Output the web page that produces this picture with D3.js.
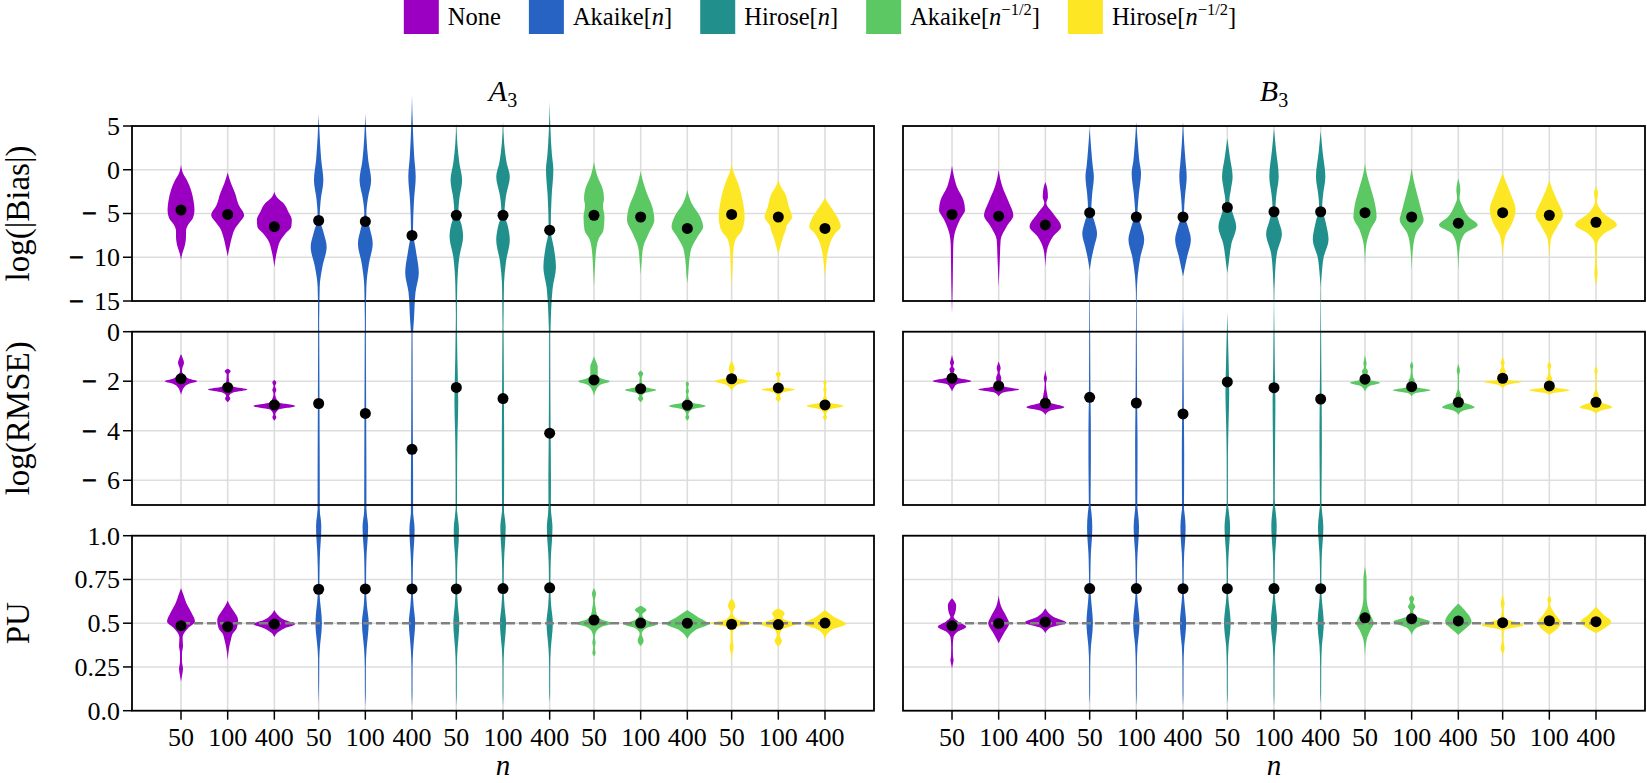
<!DOCTYPE html>
<html>
<head>
<meta charset="utf-8">
<script src="https://cdn.jsdelivr.net/npm/d3@7"></script>
<style>
    body { margin: 0; background: #fff; }
    svg { display: block; }
    svg text { font-family: 'Liberation Serif', 'Times New Roman', Tinos, 'DejaVu Serif', 'Noto Serif', serif; }
</style>
</head>
<body>
<svg id="chart"></svg>
<script>
'use strict';

const methodNames = ['None', 'Akaike', 'Hirose', 'Akaike', 'Hirose'];
const methodArgs = ['', 'n', 'n', 'n', 'n'];
const methodPowers = ['', '', '', '\u22121/2', '\u22121/2'];
const methodColors = ['#9b00c2', '#2663c2', '#21908c', '#5cc863', '#fde725'];
const sampleSizes = [50, 100, 400];
const panelLetters = ['A', 'B'];
const rowLabels = ['log(|Bias|)', 'log(RMSE)', 'PU'];
const biasTicks = [5, 0, -5, -10, -15];
const rmseTicks = [0, -2, -4, -6];
const puTicks = [0, 0.25, 0.5, 0.75, 1];
const puTickLabels = ['0.0', '0.25', '0.5', '0.75', '1.0'];
const puReference = 0.5;

// violin outlines, [value, density], top to bottom; order None, Akaike[n], Hirose[n], Akaike[n^-1/2], Hirose[n^-1/2] x (50, 100, 400)
const biasA3 = [
    [[0.6, 0], [-0.4, 2], [-1.2, 6], [-2.3, 10], [-3.5, 12.5], [-4.6, 13.5], [-5.5, 12], [-6.3, 7], [-7.0, 5], [-7.6, 5], [-8.8, 3.5], [-9.6, 1.2], [-10.3, 0]],
    [[-0.3, 0], [-1.6, 3.5], [-2.7, 7.5], [-4.0, 11], [-5.2, 16.5], [-6.0, 12], [-6.6, 8], [-7.6, 4.5], [-8.8, 2], [-9.9, 0]],
    [[-2.5, 0], [-3.2, 3], [-3.8, 9], [-4.8, 14], [-5.7, 17.5], [-6.5, 17], [-7.3, 11], [-8.0, 6.5], [-9.4, 2.5], [-11.1, 0]],
    [[6.3, 0], [3.8, 1], [1.1, 2.6], [-1.2, 4.7], [-3.5, 2], [-5.4, 1], [-7.2, 5], [-8.8, 8], [-11.1, 3.7], [-13.4, 1], [-16, 0.6], [-19, 0]],
    [[6.4, 0], [3.8, 1], [1.0, 3], [-1.2, 5.8], [-3.3, 2.5], [-5.0, 1], [-6.7, 4.5], [-8.4, 7.4], [-10.8, 3.5], [-13.4, 1], [-16, 0.6], [-19, 0]],
    [[8.5, 0], [5, 0.8], [1.5, 2.2], [-0.8, 3.7], [-3.5, 2], [-6.9, 1], [-9.3, 4], [-11.8, 6.8], [-14, 3.5], [-17, 2], [-19, 0.8], [-21, 0]],
    [[5.3, 0], [3, 1], [0.8, 3], [-1.2, 5.8], [-3.3, 3], [-5.0, 2], [-6.2, 5], [-7.6, 6.8], [-10, 3], [-13, 1], [-16, 0.5], [-18, 0]],
    [[5.5, 0], [3, 1.2], [0.9, 3.5], [-0.8, 6.8], [-3, 3], [-5.0, 1.5], [-6.5, 5], [-8.0, 6.8], [-10.5, 3], [-13, 1], [-16, 0.5], [-18, 0]],
    [[7.8, 0], [4.5, 0.8], [1.8, 2.2], [0, 3.7], [-3, 2], [-6.9, 1], [-8.8, 4], [-11.1, 6.3], [-13.5, 3], [-16, 1.5], [-19, 0.6], [-21, 0]],
    [[0.9, 0], [-0.6, 3], [-2.3, 9], [-3.3, 10], [-4.1, 9], [-5.4, 10.5], [-6.9, 9.5], [-7.8, 5], [-8.8, 2.6], [-11, 1], [-13.4, 0]],
    [[-0.2, 0], [-1.4, 2.5], [-2.7, 6.3], [-4.2, 11.5], [-5.7, 13.7], [-7.3, 7.9], [-8.8, 2.6], [-10.5, 1], [-12, 0]],
    [[-2.3, 0], [-3.0, 1.5], [-3.8, 4.2], [-5.4, 13], [-6.5, 15.8], [-7.6, 10.5], [-8.8, 4.7], [-10.3, 2], [-11.8, 1], [-13, 0]],
    [[0.7, 0], [-0.3, 2], [-1.2, 5.3], [-3.5, 11], [-5.4, 13], [-6.9, 10.5], [-8.0, 3.7], [-9.5, 1.5], [-11.5, 0.8], [-13.4, 0]],
    [[-1.2, 0], [-1.9, 2.5], [-2.7, 6.8], [-4.2, 10.5], [-5.4, 13.7], [-6.5, 8], [-6.9, 7.4], [-7.6, 5], [-8.8, 2], [-9.6, 0]],
    [[-3.2, 0], [-3.8, 3], [-4.8, 9], [-5.8, 14], [-6.5, 15.8], [-7.3, 10], [-8.0, 6.5], [-9.3, 3], [-10.8, 1.2], [-12.2, 0]]
];
const biasB3 = [
    [[0.5, 0], [-0.8, 2], [-1.9, 4.7], [-3.5, 11.6], [-4.6, 13], [-5.7, 7.9], [-7.3, 2.6], [-8.5, 1.3], [-10.3, 1], [-13, 0.7], [-16.4, 0]],
    [[0, 0], [-1, 1.5], [-1.9, 3.7], [-3.8, 10.5], [-5.2, 14.7], [-6.5, 7.9], [-8.0, 2], [-10, 1.2], [-13.4, 0]],
    [[-1.4, 0], [-2.2, 2], [-3.1, 2.6], [-3.8, 1], [-5.0, 7.9], [-6.5, 15.8], [-7.6, 7.9], [-9.2, 1.6], [-11.1, 0]],
    [[4.7, 0], [2.3, 1.6], [0.5, 3], [-0.8, 4.2], [-2.8, 2.5], [-4.6, 1.6], [-6, 5], [-7.3, 7.4], [-8.8, 4.5], [-10.3, 1.6], [-11.5, 0]],
    [[5.5, 0], [3, 1.5], [1, 3], [-0.4, 4.7], [-2.8, 2.5], [-5.0, 1.2], [-6.5, 5], [-8.0, 7.9], [-10, 4], [-12, 1.5], [-15.3, 0]],
    [[5.5, 0], [3, 1.2], [1, 2.5], [-0.8, 3.7], [-3, 2], [-5.0, 1], [-6.5, 5], [-8.0, 7.9], [-10, 4], [-12.2, 0]],
    [[3.6, 0], [1.5, 2.5], [-0.8, 5.3], [-2.3, 3.5], [-3.5, 2], [-5, 5.5], [-6.5, 8.9], [-8.5, 4], [-10.5, 1.5], [-11.8, 0]],
    [[4.7, 0], [2.3, 2], [-0.8, 4.7], [-2.8, 2.5], [-4.2, 1.5], [-5.8, 4.5], [-7.3, 7.9], [-9.5, 3], [-12, 1], [-15.3, 0]],
    [[4.4, 0], [2, 2], [-0.8, 4.7], [-2.8, 2.5], [-4.2, 1.5], [-6, 5], [-8.0, 7.9], [-10, 3], [-12, 1], [-13.4, 0]],
    [[0.7, 0], [-0.6, 2], [-1.9, 5.3], [-4.2, 10.5], [-5.4, 11.6], [-6.9, 5.3], [-8.8, 1], [-10.9, 0]],
    [[0.2, 0], [-1.2, 2], [-2.7, 5.3], [-5.0, 10.5], [-5.7, 12], [-7.3, 4.2], [-8.8, 1.5], [-11.5, 0]],
    [[-1.0, 0], [-2.3, 2], [-3.2, 1.2], [-4.2, 4.2], [-5.4, 10.5], [-6.3, 19.4], [-7.3, 6.3], [-8.8, 1.5], [-11.5, 0]],
    [[-0.4, 0], [-1.3, 3], [-2.7, 7.9], [-4.6, 13], [-6.1, 9.5], [-7.6, 2.6], [-9.9, 0]],
    [[-1.2, 0], [-2.2, 3], [-3.5, 7.9], [-5.2, 13.7], [-6.5, 7.9], [-8.0, 1.5], [-10.3, 0]],
    [[-1.9, 0], [-2.7, 2], [-3.6, 1], [-5.0, 7.9], [-6.3, 21], [-7.3, 7.9], [-8.5, 1.2], [-10.5, 0.8], [-11.8, 1.6], [-13.2, 0]]
];
const rmseA3 = [
    [[-0.9, 0], [-1.1, 2], [-1.25, 3], [-1.45, 1.5], [-1.6, 1], [-1.75, 3], [-1.9, 8], [-2.0, 16.3], [-2.1, 8], [-2.25, 3], [-2.4, 1.2], [-2.55, 0]],
    [[-1.5, 0], [-1.6, 3], [-1.72, 1], [-2.05, 1.5], [-2.22, 6], [-2.33, 20], [-2.45, 6], [-2.6, 1.5], [-2.7, 2.6], [-2.85, 0]],
    [[-1.95, 0], [-2.05, 2], [-2.2, 0.8], [-2.35, 2], [-2.5, 0.8], [-2.85, 4], [-3.0, 21], [-3.15, 4], [-3.35, 1], [-3.45, 2], [-3.6, 0]],
    [[2.8, 0], [1, 0.4], [-1, 0.6], [-3, 0.8], [-5, 1], [-7, 1.1], [-9, 0.8], [-11, 0.6], [-13, 0.3], [-14.5, 0]],
    [[2.5, 0], [1, 0.4], [-1, 0.6], [-3, 0.8], [-5, 1], [-7, 1.1], [-9, 0.8], [-11, 0.6], [-13, 0.3], [-14.5, 0]],
    [[1.5, 0], [0, 0.4], [-2, 0.6], [-4, 0.8], [-6, 1.1], [-8, 1.1], [-10, 0.8], [-12, 0.5], [-14.5, 0]],
    [[2.2, 0], [0.5, 0.5], [-1, 1], [-2.8, 1.9], [-4.5, 1], [-6, 0.7], [-9, 0.6], [-12, 0.3], [-14, 0]],
    [[2.4, 0], [0.5, 0.4], [-1, 0.7], [-3, 1], [-5, 1.2], [-7, 1], [-9, 0.7], [-12, 0.3], [-14, 0]],
    [[2.8, 0], [1, 0.4], [-2, 0.6], [-4.5, 1], [-6, 1.3], [-7.5, 1.1], [-10, 0.7], [-12.5, 0.3], [-14.5, 0]],
    [[-1.0, 0], [-1.2, 2], [-1.4, 3.7], [-1.8, 3.7], [-1.9, 8], [-2.0, 15.8], [-2.15, 6], [-2.35, 2], [-2.6, 0]],
    [[-1.57, 0], [-1.7, 2.6], [-1.85, 1], [-2.15, 1.5], [-2.25, 6], [-2.35, 15.8], [-2.47, 5], [-2.6, 1.5], [-2.7, 2.6], [-2.85, 0]],
    [[-2.0, 0], [-2.1, 1.6], [-2.25, 0.8], [-2.4, 1.6], [-2.55, 0.8], [-2.85, 4], [-3.0, 18.4], [-3.15, 4], [-3.35, 1], [-3.45, 2], [-3.6, 0]],
    [[-1.15, 0], [-1.35, 2], [-1.5, 3], [-1.7, 1.5], [-1.85, 4], [-2.0, 16.8], [-2.15, 5], [-2.4, 0]],
    [[-1.6, 0], [-1.72, 2.6], [-1.85, 1], [-2.15, 1.5], [-2.25, 6], [-2.33, 16.8], [-2.45, 5], [-2.6, 1.5], [-2.7, 2.6], [-2.85, 0]],
    [[-1.95, 0], [-2.05, 1.6], [-2.2, 0.8], [-2.35, 1.6], [-2.5, 0.8], [-2.85, 4], [-3.0, 18.4], [-3.15, 4], [-3.35, 1], [-3.45, 2], [-3.6, 0]]
];
const rmseB3 = [
    [[-0.94, 0], [-1.1, 1], [-1.25, 2], [-1.4, 1], [-1.52, 2.6], [-1.7, 1.5], [-1.85, 5], [-2.0, 19.4], [-2.12, 5], [-2.25, 2], [-2.42, 0]],
    [[-1.2, 0], [-1.35, 1.2], [-1.48, 2], [-1.65, 1], [-1.88, 2.6], [-2.1, 2], [-2.22, 6], [-2.33, 20.5], [-2.45, 5], [-2.62, 0]],
    [[-1.55, 0], [-1.75, 0.8], [-1.88, 1.6], [-2.1, 0.6], [-2.56, 2], [-2.85, 4], [-3.05, 19], [-3.2, 4], [-3.36, 0]],
    [[2.6, 0], [1, 0.3], [-1, 0.5], [-2.8, 0.8], [-4, 1.2], [-5.2, 1.2], [-7, 0.8], [-9, 0.7], [-11, 0.5], [-13, 0.3], [-14.5, 0]],
    [[2.8, 0], [1, 0.3], [-1, 0.5], [-3, 0.8], [-4.5, 1.2], [-6, 1.1], [-8, 0.8], [-10, 0.6], [-13, 0.3], [-14.5, 0]],
    [[1.4, 0], [0, 0.3], [-2, 0.6], [-3.5, 0.9], [-5, 1.2], [-7, 1], [-9, 0.8], [-11, 0.5], [-14.5, 0]],
    [[0.8, 0], [0, 0.5], [-1.4, 1.4], [-2.5, 1.9], [-3.7, 1.2], [-5, 0.6], [-8, 0.5], [-11, 0.4], [-14.5, 0]],
    [[1.6, 0], [0, 0.4], [-1.5, 0.8], [-2.8, 1.4], [-4, 1.2], [-6, 0.8], [-9, 0.5], [-12, 0.3], [-14.5, 0]],
    [[2.6, 0], [0.5, 0.3], [-1.5, 0.6], [-3, 1], [-4.5, 1.2], [-6.5, 0.8], [-9, 0.5], [-12, 0.3], [-14.5, 0]],
    [[-0.95, 0], [-1.15, 1], [-1.28, 1.6], [-1.45, 1], [-1.6, 3], [-1.8, 2], [-1.95, 5], [-2.06, 15.2], [-2.2, 4], [-2.42, 0]],
    [[-1.2, 0], [-1.39, 1.6], [-1.55, 0.8], [-1.85, 1.5], [-1.95, 3], [-2.15, 3], [-2.25, 6], [-2.36, 19], [-2.48, 4], [-2.62, 0]],
    [[-1.28, 0], [-1.45, 1], [-1.57, 1.6], [-1.8, 0.6], [-2.3, 0.6], [-2.56, 2.6], [-2.8, 3], [-3.05, 16.3], [-3.2, 4], [-3.36, 0]],
    [[-1.0, 0], [-1.15, 1.2], [-1.24, 2], [-1.4, 1], [-1.6, 3], [-1.8, 2.5], [-1.95, 6], [-2.02, 19], [-2.15, 4], [-2.3, 0]],
    [[-1.2, 0], [-1.39, 2], [-1.55, 0.8], [-1.8, 1.5], [-1.88, 3], [-2.1, 2.5], [-2.25, 6], [-2.36, 20.5], [-2.48, 4], [-2.55, 0]],
    [[-1.41, 0], [-1.59, 1.6], [-1.75, 0.6], [-2.3, 0.6], [-2.56, 2.6], [-2.8, 3], [-3.05, 16.3], [-3.2, 4], [-3.3, 0]]
];
const puA3 = [
    [[0.70, 0], [0.66, 2.6], [0.62, 5], [0.56, 10.5], [0.51, 14], [0.47, 6.8], [0.42, 1.6], [0.39, 1.8], [0.37, 2], [0.33, 1], [0.28, 1], [0.24, 2], [0.2, 1], [0.165, 0]],
    [[0.63, 0], [0.6, 2.5], [0.575, 5.3], [0.518, 10.5], [0.47, 9], [0.442, 5.3], [0.4, 3], [0.366, 1.6], [0.29, 0]],
    [[0.575, 0], [0.55, 3], [0.52, 10], [0.495, 21], [0.47, 10], [0.445, 3], [0.42, 0]],
    [[1.17, 0], [1.12, 1.5], [1.06, 2.6], [1.0, 2.4], [0.92, 1.5], [0.82, 0.9], [0.7, 0.7], [0.62, 1.5], [0.55, 2.8], [0.5, 3.2], [0.45, 2.8], [0.38, 1.5], [0.3, 0.6], [0.15, 0.4], [0.04, 0]],
    [[1.18, 0], [1.12, 1.5], [1.05, 2.8], [0.98, 2.3], [0.9, 1.3], [0.8, 0.8], [0.7, 0.7], [0.6, 1.6], [0.5, 3.4], [0.42, 2.4], [0.35, 1.2], [0.25, 0.5], [0.1, 0.4], [0.03, 0]],
    [[1.17, 0], [1.1, 1.6], [1.04, 2.6], [0.97, 2.2], [0.9, 1.4], [0.8, 0.8], [0.7, 0.7], [0.6, 1.6], [0.5, 3.2], [0.42, 2.2], [0.35, 1.2], [0.25, 0.5], [0.1, 0.4], [0.03, 0]],
    [[1.17, 0], [1.1, 1.6], [1.04, 2.6], [0.97, 2.4], [0.9, 1.5], [0.8, 0.8], [0.7, 0.7], [0.6, 1.6], [0.5, 3], [0.42, 2.2], [0.35, 1.2], [0.25, 0.5], [0.1, 0.4], [0.03, 0]],
    [[1.18, 0], [1.11, 1.6], [1.05, 2.7], [0.98, 2.3], [0.9, 1.4], [0.8, 0.8], [0.7, 0.7], [0.6, 1.5], [0.5, 3.1], [0.42, 2.2], [0.35, 1.1], [0.25, 0.5], [0.1, 0.4], [0.03, 0]],
    [[1.2, 0], [1.12, 1.7], [1.05, 2.8], [0.98, 2.4], [0.9, 1.4], [0.8, 0.8], [0.7, 0.7], [0.6, 1.5], [0.5, 3.2], [0.42, 2.2], [0.35, 1.1], [0.25, 0.5], [0.1, 0.4], [0.05, 0]],
    [[0.70, 0], [0.67, 2], [0.63, 0.8], [0.59, 1.6], [0.55, 3], [0.52, 8], [0.5, 18.4], [0.48, 8], [0.45, 2], [0.42, 0.8], [0.39, 1.6], [0.36, 0.8], [0.33, 1.6], [0.31, 0]],
    [[0.6, 0], [0.575, 5.8], [0.55, 1.6], [0.52, 5], [0.495, 16.8], [0.47, 5], [0.44, 1], [0.4, 3], [0.37, 0]],
    [[0.575, 0], [0.536, 10.5], [0.495, 21], [0.46, 8], [0.41, 0]],
    [[0.642, 0], [0.6, 3.7], [0.56, 1], [0.52, 6], [0.5, 21], [0.48, 6], [0.45, 1], [0.4, 1], [0.366, 2], [0.33, 0.8], [0.28, 0]],
    [[0.585, 0], [0.556, 6.3], [0.53, 4], [0.495, 17.3], [0.46, 3], [0.43, 1.5], [0.4, 3.7], [0.366, 0]],
    [[0.575, 0], [0.54, 8], [0.495, 21], [0.46, 6], [0.41, 0]]
];
const puB3 = [
    [[0.642, 0], [0.6, 4.2], [0.555, 3], [0.535, 1.6], [0.51, 6], [0.48, 14.2], [0.45, 5.3], [0.42, 1.5], [0.366, 0.8], [0.31, 1], [0.29, 1.6], [0.26, 0.6], [0.24, 0]],
    [[0.66, 0], [0.594, 2.6], [0.537, 7.9], [0.499, 10.5], [0.452, 6.3], [0.404, 1.6], [0.385, 0]],
    [[0.585, 0], [0.537, 7.9], [0.503, 21], [0.475, 5.3], [0.442, 0]],
    [[1.2, 0], [1.13, 1.8], [1.05, 2.6], [1.0, 2.4], [0.9, 1.2], [0.82, 0.8], [0.73, 0.6], [0.63, 1.5], [0.55, 2.8], [0.5, 3.2], [0.44, 2.6], [0.37, 1.3], [0.25, 0.5], [0.1, 0.4], [0.04, 0]],
    [[1.2, 0], [1.12, 1.8], [1.05, 2.7], [0.99, 2.3], [0.9, 1.2], [0.8, 0.7], [0.7, 0.6], [0.62, 1.4], [0.55, 2.7], [0.5, 3.2], [0.44, 2.5], [0.37, 1.2], [0.25, 0.5], [0.1, 0.4], [0.03, 0]],
    [[1.19, 0], [1.12, 1.7], [1.05, 2.6], [0.99, 2.3], [0.9, 1.2], [0.8, 0.7], [0.7, 0.6], [0.62, 1.4], [0.55, 2.6], [0.5, 3.1], [0.44, 2.5], [0.37, 1.2], [0.25, 0.5], [0.1, 0.4], [0.03, 0]],
    [[1.2, 0], [1.12, 1.8], [1.05, 2.8], [0.99, 2.4], [0.9, 1.3], [0.8, 0.7], [0.7, 0.6], [0.62, 1.4], [0.55, 2.8], [0.5, 3.3], [0.44, 2.6], [0.37, 1.2], [0.25, 0.5], [0.1, 0.4], [0.04, 0]],
    [[1.21, 0], [1.13, 1.8], [1.06, 2.7], [0.99, 2.3], [0.9, 1.2], [0.8, 0.7], [0.7, 0.6], [0.62, 1.4], [0.55, 2.7], [0.5, 3.2], [0.44, 2.5], [0.37, 1.2], [0.25, 0.5], [0.1, 0.4], [0.03, 0]],
    [[1.2, 0], [1.12, 1.7], [1.05, 2.7], [0.99, 2.3], [0.9, 1.2], [0.8, 0.7], [0.7, 0.6], [0.62, 1.4], [0.55, 2.6], [0.5, 3.1], [0.44, 2.5], [0.37, 1.2], [0.25, 0.5], [0.1, 0.4], [0.04, 0]],
    [[0.823, 0], [0.75, 1.6], [0.65, 1.6], [0.6, 2.5], [0.537, 6.3], [0.5, 8.9], [0.46, 5.3], [0.404, 1.6], [0.31, 0]],
    [[0.66, 0], [0.64, 2.6], [0.62, 1.5], [0.594, 3.7], [0.57, 1.5], [0.54, 4], [0.509, 18.4], [0.475, 5.3], [0.433, 0]],
    [[0.613, 0], [0.575, 6.3], [0.509, 13.2], [0.46, 5.3], [0.433, 0]],
    [[0.671, 0], [0.64, 1], [0.613, 2], [0.58, 0.8], [0.53, 2], [0.489, 21], [0.46, 1], [0.4, 0.8], [0.356, 2], [0.33, 0.6], [0.31, 0]],
    [[0.66, 0], [0.632, 2], [0.61, 0.8], [0.556, 5.3], [0.503, 11.6], [0.46, 6.3], [0.433, 0]],
    [[0.594, 0], [0.547, 7.9], [0.509, 15.3], [0.46, 5.3], [0.442, 0]]
];

const biasMeanA3 = [-4.6, -5.1, -6.5, -5.8, -5.9, -7.5, -5.2, -5.2, -6.9, -5.2, -5.4, -6.7, -5.1, -5.4, -6.7];
const biasMeanB3 = [-5.1, -5.3, -6.3, -4.9, -5.4, -5.4, -4.3, -4.8, -4.8, -4.9, -5.4, -6.1, -4.9, -5.2, -6.0];
const rmseMeanA3 = [-1.9, -2.25, -2.96, -2.9, -3.3, -4.75, -2.25, -2.7, -4.1, -1.95, -2.3, -2.97, -1.9, -2.27, -2.96];
const rmseMeanB3 = [-1.88, -2.19, -2.89, -2.65, -2.88, -3.32, -2.03, -2.26, -2.72, -1.92, -2.22, -2.85, -1.88, -2.19, -2.85];
const puMeanA3 = [0.486, 0.48, 0.495, 0.694, 0.696, 0.696, 0.696, 0.698, 0.702, 0.518, 0.501, 0.5, 0.494, 0.492, 0.501];
const puMeanB3 = [0.486, 0.499, 0.507, 0.698, 0.698, 0.697, 0.697, 0.698, 0.697, 0.531, 0.526, 0.513, 0.503, 0.514, 0.509];

(function () {
    const width = 1647;
    const height = 783;
    const panelLeft = [132, 903];
    const panelWidth = 742;
    const dodge = 0.339;
    const gridColor = '#dddddd';
    const serif = "'Liberation Serif', 'Times New Roman', Tinos, 'DejaVu Serif', 'Noto Serif', serif";

    const svg = d3.select('#chart')
        .attr('width', width)
        .attr('height', height)
        .attr('font-family', serif);

    const rows = [
        { top: 126, bottom: 301, domain: [-15, 5], ticks: biasTicks,
            shapes: [biasA3, biasB3], means: [biasMeanA3, biasMeanB3] },
        { top: 331.7, bottom: 505, domain: [-7, 0], ticks: rmseTicks,
            shapes: [rmseA3, rmseB3], means: [rmseMeanA3, rmseMeanB3] },
        { top: 535.7, bottom: 710.7, domain: [0, 1], ticks: puTicks, labels: puTickLabels,
            shapes: [puA3, puB3], means: [puMeanA3, puMeanB3], reference: puReference }
    ];

    // every violin slot: method index, size index
    const slots = d3.cross(d3.range(methodNames.length), d3.range(sampleSizes.length));

    rows.forEach((row, r) => {
        const y = d3.scaleLinear().domain(row.domain).range([row.bottom, row.top]);

        panelLeft.forEach((left, p) => {
            const x = d3.scaleLinear().domain([-0.695, 4.695]).range([left, left + panelWidth]);
            const slotX = s => x(s[0] + (s[1] - 1) * dodge);
            const halfWidth = d3.scaleLinear().domain([0, 20]).range([0, 0.145 * (x(1) - x(0))]);
            const g = svg.append('g');

            // background hides tails of the row above
            g.append('rect')
                .attr('x', left).attr('y', row.top)
                .attr('width', panelWidth).attr('height', row.bottom - row.top)
                .attr('fill', '#fff');

            g.selectAll('.hgrid')
                .data(row.ticks)
                .enter().append('line')
                .attr('x1', left).attr('x2', left + panelWidth)
                .attr('y1', d => y(d)).attr('y2', d => y(d))
                .attr('stroke', gridColor).attr('stroke-width', 1.6);

            g.selectAll('.vgrid')
                .data(slots)
                .enter().append('line')
                .attr('x1', slotX).attr('x2', slotX)
                .attr('y1', row.top).attr('y2', row.bottom)
                .attr('stroke', gridColor).attr('stroke-width', 1.6);

            row.shapes[p].forEach((shape, i) => {
                const cx = slotX(slots[i]);
                const area = d3.area()
                    .curve(d3.curveMonotoneY)
                    .y(d => y(d[0]))
                    .x0(d => cx - halfWidth(d[1]))
                    .x1(d => cx + halfWidth(d[1]));
                g.append('path')
                    .datum(shape)
                    .attr('d', area)
                    .attr('fill', methodColors[slots[i][0]]);
            });

            if (row.reference !== undefined) {
                g.append('line')
                    .attr('x1', slotX(slots[0])).attr('x2', slotX(slots[slots.length - 1]))
                    .attr('y1', y(row.reference)).attr('y2', y(row.reference))
                    .attr('stroke', '#808080')
                    .attr('stroke-width', 2.5)
                    .attr('stroke-dasharray', '9,4');
            }

            g.selectAll('.mean')
                .data(row.means[p])
                .enter().append('circle')
                .attr('cx', (d, i) => slotX(slots[i]))
                .attr('cy', d => y(d))
                .attr('r', 5.5)
                .attr('fill', '#000');

            g.append('rect')
                .attr('x', left).attr('y', row.top)
                .attr('width', panelWidth).attr('height', row.bottom - row.top)
                .attr('fill', 'none').attr('stroke', '#000').attr('stroke-width', 1.8);

            if (p === 0) {
                g.selectAll('.ytick')
                    .data(row.ticks)
                    .enter().append('line')
                    .attr('x1', left - 9).attr('x2', left)
                    .attr('y1', d => y(d)).attr('y2', d => y(d))
                    .attr('stroke', '#000').attr('stroke-width', 1.5);
                const labels = g.selectAll('.ylabel')
                    .data(row.ticks)
                    .enter().append('text')
                    .attr('x', left - 12)
                    .attr('y', d => y(d))
                    .attr('dy', '0.34em')
                    .attr('text-anchor', 'end')
                    .attr('font-size', 26)
                    .attr('fill', '#000');
                // negative ticks: a long minus, a gap, then the magnitude
                labels.filter(d => d < 0).append('tspan')
                    .attr('stroke', '#000')
                    .attr('stroke-width', 0.8)
                    .text('\u2212');
                labels.append('tspan')
                    .attr('dx', d => (d < 0 ? 10 : 0))
                    .text((d, i) => (row.labels ? row.labels[i] : String(Math.abs(d))));
                g.append('text')
                    .attr('transform', 'translate(18,' + ((row.top + row.bottom) / 2) + ') rotate(-90)')
                    .attr('text-anchor', 'middle')
                    .attr('dominant-baseline', 'central')
                    .attr('font-size', 33)
                    .text(rowLabels[r]);
            }

            if (r === 0) {
                const title = g.append('text')
                    .attr('x', left + panelWidth / 2)
                    .attr('y', 101)
                    .attr('text-anchor', 'middle')
                    .attr('font-size', 30);
                title.append('tspan').attr('font-style', 'italic').text(panelLetters[p]);
                title.append('tspan').attr('font-size', 20).attr('dy', 6).text('3');
            }

            if (r === rows.length - 1) {
                g.selectAll('.xtick')
                    .data(slots)
                    .enter().append('line')
                    .attr('x1', slotX).attr('x2', slotX)
                    .attr('y1', row.bottom).attr('y2', row.bottom + 9)
                    .attr('stroke', '#000').attr('stroke-width', 1.5);
                g.selectAll('.xlabel')
                    .data(slots)
                    .enter().append('text')
                    .attr('x', slotX)
                    .attr('y', 746)
                    .attr('text-anchor', 'middle')
                    .attr('font-size', 26)
                    .text(d => sampleSizes[d[1]]);
                g.append('text')
                    .attr('x', left + panelWidth / 2)
                    .attr('y', 775)
                    .attr('text-anchor', 'middle')
                    .attr('font-size', 29)
                    .attr('font-style', 'italic')
                    .text('n');
            }
        });
    });

    // legend across the top
    const legend = svg.append('g');
    let cursor = 0;
    methodNames.forEach((name, i) => {
        const item = legend.append('g').attr('transform', 'translate(' + cursor + ',0)');
        item.append('rect')
            .attr('width', 35).attr('height', 34)
            .attr('fill', methodColors[i]);
        const t = item.append('text')
            .attr('x', 44).attr('y', 25)
            .attr('font-size', 24.5);
        t.append('tspan').text(name);
        if (methodArgs[i]) {
            t.append('tspan').text('[');
            t.append('tspan').attr('font-style', 'italic').text(methodArgs[i]);
            if (methodPowers[i]) {
                t.append('tspan').attr('font-size', 16.5).attr('dy', -10).text(methodPowers[i]);
                t.append('tspan').attr('dy', 10).text(']');
            } else {
                t.append('tspan').text(']');
            }
        }
        cursor += 44 + t.node().getComputedTextLength() + 28;
    });
    legend.attr('transform', 'translate(' + (820 - (cursor - 28) / 2) + ',0)');
}());
</script>
</body>
</html>
